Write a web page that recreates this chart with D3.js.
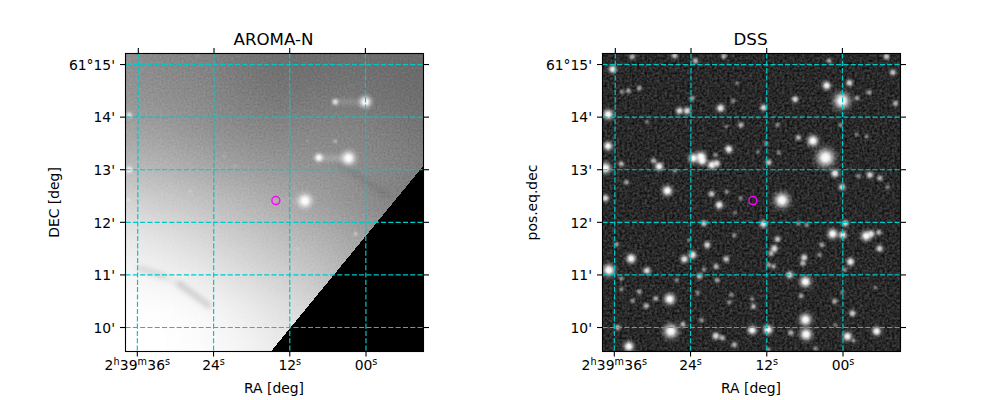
<!DOCTYPE html>
<html><head><meta charset="utf-8">
<script src="https://cdn.jsdelivr.net/npm/d3@7"></script>
<style>
html,body{margin:0;padding:0;background:#fff}
svg{display:block}
text{font-family:"DejaVu Sans";fill:#000}
</style></head><body>
<script>
const raTicks=[36,24,12,0];
const raLabels=["2h39m36s","24s","12s","00s"];
const decTicks=[15,14,13,12,11,10];
const decLabels=["61°15'","14'","13'","12'","11'","10'"];
const panelTitles=["AROMA-N","DSS"];
const yTitles=["DEC [deg]","pos.eq.dec"];
const targetRA=14.19, targetDec=12.414;

// background brightness
const bgRA=[44,38,32,26,20,14,8,2,-4,-10,-16];
const bgDec=[15.9,15.2,14.5,13.8,13.1,12.4,11.7,11,10.3,9.6,8.9];
const bgGray=[
[140,140,132,128,120,110,106,108,106,104,104],
[144,144,134,130,120,110,108,110,108,104,104],
[150,148,142,136,126,116,118,118,112,108,106],
[164,162,156,146,138,132,134,132,124,114,112],
[186,184,178,168,158,150,146,142,134,124,120],
[214,212,204,194,184,172,160,146,130,120,120],
[236,234,226,216,204,192,180,166,150,135,135],
[246,246,242,234,222,210,198,180,165,150,150],
[255,255,255,250,240,228,214,196,175,160,160],
[255,255,255,252,246,236,224,206,185,160,160],
[255,255,255,252,246,236,224,206,185,160,160]];
const wedgeRA=[15,-9.2,-9.2,15], wedgeDec=[9.54,13.1,9.54,9.54];
const streakRA1=[4.8,7.4,14],streakRA2=[0,2.7,9.6],streakDec=[14.29,13.22,12.41],streakGray=[.3,.4,.14];
const dustRA1=[35.6,32,29.3,3.8],dustRA2=[32,29.3,24.8,-3.2],dustDec1=[11.12,10.98,10.82,13.08],dustDec2=[10.98,10.82,10.42,12.52],dustLevel=[.11,.04,.15,.09];
const aromaRA=[0,4.8,2.7,7.4,9.6,4.8,9.3,27.7,22.4,20.7,37.4,37.4,37.5,1.6,10.7,26.6,2.4];
const aromaDec=[14.29,14.29,13.22,13.23,12.41,13.54,13.55,12.59,13.26,13.07,14.04,13.0,12.43,11.78,11.5,15.17,14.6];
const aromaFlux=[22,5,34,10,34,1.2,.4,.7,.5,.5,4,6,1,1.4,.6,.4,.3];

const dssRA=[36.4,33.3,26.6,23.3,18.8,2.1,-7,-8,2.5,-1.1,-4.2,7.5,0.1,-2.3,-8.4,19.3,23.8,25.8,24.6,37.1,12.5,17.3,32.2,33.9,34.9,16.7,16.1,10.3,7,4.7,2.7,-3.8,-2.2,0.3,18,18.4,23.6,22.4,22.2,20.7,19.9,20.1,11.7,12.1,10.1,13.4,1.2,-4.3,-5.9,-2.5,0.1,-7.1,9.6,27.7,29,29.9,35,37.1,37.5,37.5,34.2,20.7,19.5,18.3,16.1,17,26.5,30.9,
12.5,21.9,-0.4,1.6,0,-3.7,-4.5,-5.7,-5.8,3.3,3.7,5.7,7,17.1,21.4,24.3,23.7,25,18.4,20,10.3,10.8,11.3,11.7,10.9,6.1,6.3,-1.2,8.4,5.9,-0.3,36.9,33.4,30.9,22.6,19.8,21.9,26.2,34.9,34.9,35.7,32.1,27.3,29.5,31,33.1,22.9,17.6,17.9,14.1,14.3,6.6,1.3,0.1,-1.5,5.9,-5.1,22.3,25.2,27.1,35.5,33.7,14.3,11.8,8.2,5.8,-0.7,-5.3,20,19,17.1,-1.7,1.2,4.3,11.7];
const dssDec=[14.91,15.15,15.17,15.07,15.16,15.07,15.15,14.85,14.6,14.65,14.47,14.34,14.31,14.36,14.26,14.17,14.36,14.12,14.12,14.05,14.18,14.31,14.55,14.5,14.48,14.65,13.85,13.85,13.61,13.55,13.23,13.63,13.67,13.85,13.39,13.82,13.22,13.25,13.17,13.09,13.12,13.28,13.14,13.5,13.32,13.34,12.93,12.9,12.84,12.88,12.67,12.67,12.42,12.6,13.06,13.17,13.11,13.45,13.03,12.46,12.76,12.54,12.33,12.58,12.46,12.18,12.98,13.91,
11.97,11.98,11.98,11.78,11.76,11.74,11.78,11.81,11.5,11.57,11.38,11.95,11.98,11.75,11.57,11.66,11.38,11.3,11.3,11.16,11.68,11.5,11.41,11.19,11.16,11.33,11.22,11.25,11,10.87,11.1,11.09,11.31,11.08,10.98,10.9,11.1,10.9,10.93,10.73,11.58,10.68,10.54,10.55,10.41,10.51,10.66,10.62,10.48,10.4,10.54,10.6,10.5,10.66,10.27,10.15,10.76,10.14,10.06,9.93,10,9.64,9.95,9.96,9.9,9.87,9.83,9.93,9.84,9.8,9.67,9.75,10.05,9.6,9.58];
const dssFlux=[9,4,5,4,4,3,5,5,10,6,3,6,50,3,4,9,3,7,7,16,6,2.2,3,3,2.2,1.5,4,2.2,4,20,64,2,1.5,2,9,1.5,14,16,12,10,7,2.2,5,2.2,2,1.5,9,6,4,2.2,6,2,42,16,10,4,4,12,20,7,3,5,9,2.2,2,1.5,2,1.5,
8,5,6,16,9,16,7,4,6,3,2.2,2.2,2.2,2.2,6,1.5,9,8,5,4,5,7,4,3,3,6,4,9,7,20,2.2,25,14,7,5,3,2.2,2,2.2,2.2,2.5,3,20,3.5,4,2.5,2.2,2.2,2.2,4,2,3,3.5,1.5,5.5,25,1.5,2.5,4,36,4,16,12,14,4,25,12,12,7,4,4,2,1.5,2.2,2.2];

const W=1000,H=400,top_=53.5,bot=351.5;
const svg=d3.select("body").append("svg").attr("width",W).attr("height",H);
const defs=svg.append("defs");
const grad=defs.append("radialGradient").attr("id","star");
[[0,1],[.22,.92],[.42,.55],[.62,.22],[.82,.06],[1,0]].forEach(s=>grad.append("stop").attr("offset",s[0]).attr("stop-color","#fff").attr("stop-opacity",s[1]));
function mkFilter(id){return defs.append("filter").attr("id",id).attr("filterUnits","userSpaceOnUse").attr("x",0).attr("y",0).attr("width",W).attr("height",H).attr("color-interpolation-filters","sRGB");}
mkFilter("soft").append("feGaussianBlur").attr("stdDeviation",16);
mkFilter("dust").append("feGaussianBlur").attr("stdDeviation",2.6);
function noise(id,freq,slope,intercept,alpha){
  const f=mkFilter(id);
  f.append("feTurbulence").attr("type","fractalNoise").attr("baseFrequency",freq).attr("numOctaves",2).attr("seed",4);
  f.append("feColorMatrix").attr("values",`${slope} 0 0 0 ${intercept} ${slope} 0 0 0 ${intercept} ${slope} 0 0 0 ${intercept} 0 0 0 0 ${alpha}`);
}
noise("nL",0.5,1.0,0,0.14);
noise("nR",0.4,.36,-0.02,1);

const rScale=d3.scaleSqrt().domain([0,64]).range([0,14]);
const opScale=d3.scaleLinear().domain([0,1,3,6,10,16]).range([0,.3,.55,.8,.95,1]).clamp(true);

function panel(i,x0){
  const xs=d3.scaleLinear().domain([37.86,-9.05]).range([x0,x0+298]);
  const ys=d3.scaleLinear().domain([15.21,9.544]).range([top_,bot]);
  const px=(ra,dec)=>xs(ra)+0.00785*(ra-13.5)*(dec-9.544);
  const clipId="clip"+i;
  defs.append("clipPath").attr("id",clipId).append("rect").attr("x",x0).attr("y",top_).attr("width",298).attr("height",298);
  const g=svg.append("g");
  const img=g.append("g").attr("clip-path",`url(#${clipId})`);
  function drawStars(sel,ra,dec,flux){
    sel.append("g").selectAll("circle").data(flux).join("circle")
      .attr("cx",(d,k)=>px(ra[k],dec[k])).attr("cy",(d,k)=>ys(dec[k]))
      .attr("r",d=>rScale(d)+2).attr("fill","url(#star)")
      .attr("opacity",d=>opScale(d));
  }
  if(i===0){
    const blurG=img.append("g").attr("filter","url(#soft)");
    const cw=Math.abs(xs(bgRA[1])-xs(bgRA[0])), ch=ys(bgDec[1])-ys(bgDec[0]);
    bgDec.forEach((d,r)=>bgRA.forEach((ra,c)=>{
      const v=bgGray[r][c];
      blurG.append("rect").attr("x",xs(ra)-cw/2-.5).attr("y",ys(d)-ch/2-.5).attr("width",cw+1).attr("height",ch+1)
        .attr("fill",d3.rgb(v,v,v));
    }));
    img.append("rect").attr("x",x0).attr("y",top_).attr("width",298).attr("height",298).attr("filter","url(#nL)").style("mix-blend-mode","overlay");
    img.append("g").attr("filter","url(#dust)").selectAll("line").data(dustRA1).join("line")
      .attr("x1",(d,k)=>xs(d)).attr("y1",(d,k)=>ys(dustDec1[k]))
      .attr("x2",(d,k)=>xs(dustRA2[k])).attr("y2",(d,k)=>ys(dustDec2[k]))
      .attr("stroke","#000").attr("stroke-width",6).attr("stroke-linecap","round")
      .attr("stroke-opacity",(d,k)=>dustLevel[k]);
    img.append("g").attr("filter","url(#dust)").selectAll("line").data(streakRA1).join("line")
      .attr("x1",d=>xs(d)).attr("x2",(d,k)=>xs(streakRA2[k]))
      .attr("y1",(d,k)=>ys(streakDec[k])).attr("y2",(d,k)=>ys(streakDec[k]))
      .attr("stroke","#fff").attr("stroke-width",3).attr("stroke-opacity",(d,k)=>streakGray[k]);
    drawStars(img,aromaRA,aromaDec,aromaFlux);
    img.append("path").attr("d",d3.line().x(d=>xs(d[0])).y(d=>ys(d[1]))(wedgeRA.map((r,k)=>[r,wedgeDec[k]])))
      .attr("fill","#000").attr("shape-rendering","crispEdges");
  } else {
    img.append("rect").attr("x",x0).attr("y",top_).attr("width",298).attr("height",298).attr("filter","url(#nR)");
    drawStars(img,dssRA,dssDec,dssFlux);
  }
  // grid
  const grid=g.append("g").attr("clip-path",`url(#${clipId})`).attr("fill","none").attr("stroke","#00c8c8").attr("stroke-width",1.2).attr("stroke-dasharray","5.1,2.2");
  grid.selectAll(".v").data(raTicks).join("line").attr("x1",d=>px(d,15.21)).attr("x2",d=>px(d,9.544)).attr("y1",top_).attr("y2",bot);
  grid.selectAll(".h").data(decTicks).join("line").attr("x1",x0).attr("x2",x0+298).attr("y1",d=>ys(d)).attr("y2",d=>ys(d));
  // target
  g.append("circle").attr("cx",px(targetRA,targetDec)).attr("cy",ys(targetDec)).attr("r",4).attr("fill","none").attr("stroke","#f0f").attr("stroke-width",1.4);
  // frame
  g.append("rect").attr("x",x0).attr("y",top_).attr("width",298).attr("height",298).attr("fill","none").attr("stroke","#000").attr("stroke-width",1.1);
  const ticks=g.append("g").attr("stroke","#000").attr("stroke-width",1.1);
  raTicks.forEach(t=>{
    ticks.append("line").attr("x1",px(t,15.21)).attr("x2",px(t,15.21)).attr("y1",top_-5.5).attr("y2",top_);
    ticks.append("line").attr("x1",px(t,9.544)).attr("x2",px(t,9.544)).attr("y1",bot).attr("y2",bot+5);
  });
  decTicks.forEach(t=>{
    ticks.append("line").attr("x1",x0-5.5).attr("x2",x0).attr("y1",ys(t)).attr("y2",ys(t));
    ticks.append("line").attr("x1",x0+298).attr("x2",x0+303.5).attr("y1",ys(t)).attr("y2",ys(t));
  });
  // labels
  raTicks.forEach((t,k)=>{
    const txt=g.append("text").attr("x",px(t,9.544)).attr("y",370).attr("text-anchor","middle").attr("font-size",13.9);
    raLabels[k].match(/\d+|[hms]/g).forEach(tok=>{
      if(/\d/.test(tok)) txt.append("tspan").text(tok);
      else{ txt.append("tspan").attr("dy",-5).attr("font-size",9.7).text(tok);
            txt.append("tspan").attr("dy",5).attr("font-size",1).text(" "); }
    });
  });
  decTicks.forEach((t,k)=>g.append("text").attr("x",x0-10.5).attr("y",ys(t)+5.3).attr("text-anchor","end").attr("font-size",13.9).text(decLabels[k]));
  g.append("text").attr("x",x0+148).attr("y",45).attr("text-anchor","middle").attr("font-size",16.67).text(panelTitles[i]);
  g.append("text").attr("x",x0+148.5).attr("y",393).attr("text-anchor","middle").attr("font-size",13.9).text("RA [deg]");
  const yx=i===0?59:537;
  g.append("text").attr("transform",`translate(${yx},202.5) rotate(-90)`).attr("text-anchor","middle").attr("font-size",13.9).text(yTitles[i]);
}
panel(0,125.5);
panel(1,602.5);
</script>
</body></html>
